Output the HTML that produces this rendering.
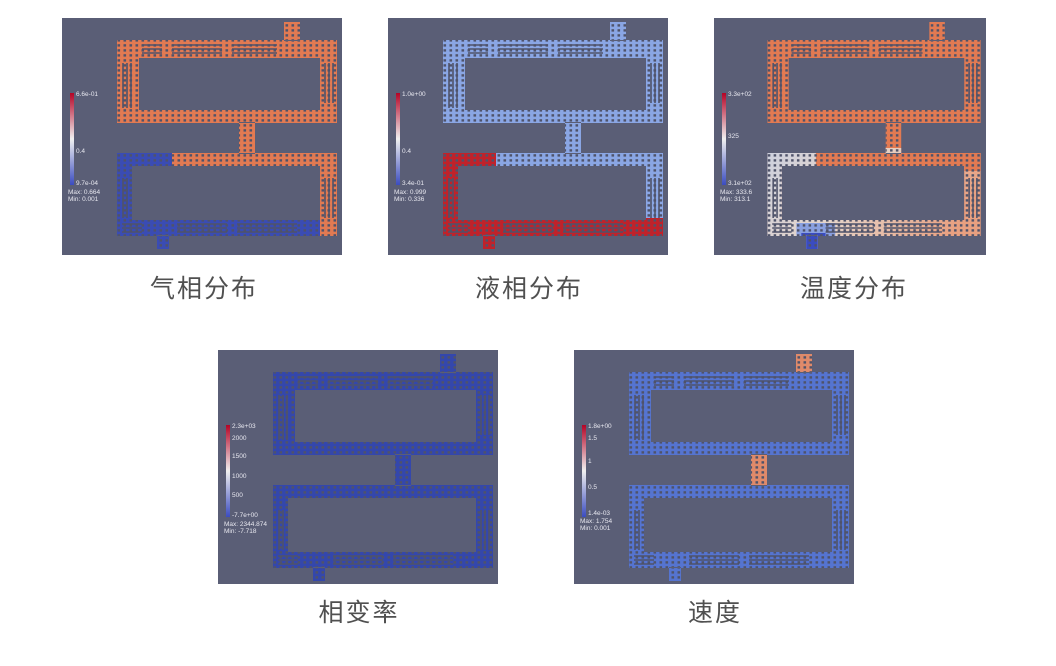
<!DOCTYPE html>
<html><head><meta charset="utf-8"><style>
html,body{margin:0;padding:0;background:#fff;width:1056px;height:666px;overflow:hidden}
svg{display:block}
.lb{font-family:"Liberation Sans","Noto Sans CJK SC",sans-serif;font-size:25px;fill:#505050;text-anchor:middle;letter-spacing:2px}
.sm{font-family:"Liberation Sans",sans-serif;font-size:6.5px;fill:#e8e8f0}
</style></head><body>
<svg width="1056" height="666" viewBox="0 0 1056 666" xmlns="http://www.w3.org/2000/svg">
<defs>
<pattern id="dots" width="6" height="5" patternUnits="userSpaceOnUse"><rect x="1.5" y="1.2" width="2.6" height="2.4" fill="#4f536a"/></pattern>
<clipPath id="shape">
<path fill-rule="evenodd" clip-rule="evenodd" d="M55,22h220v83h-220z M77,40h181v52h-181z M177,104h16v32h-16z M55,135h220v83h-220z M70,148h188v54h-188z M222,4h16v19h-16z M95,217h12v14h-12z"/>
</clipPath>
<linearGradient id="cb" x1="0" y1="0" x2="0" y2="1"><stop offset="0" stop-color="#b40426"/><stop offset="0.5" stop-color="#f0f0f0"/><stop offset="1" stop-color="#3b4cc0"/></linearGradient>
<linearGradient id="tb" x1="0" y1="0" x2="1" y2="0.3"><stop offset="0" stop-color="#c9d0e2"/><stop offset="0.5" stop-color="#e6d4c8"/><stop offset="1" stop-color="#e8a080"/></linearGradient>
<g id="cbar"><rect x="8" y="75" width="4" height="92" fill="url(#cb)"/></g>
<g id="slots" fill="none" stroke="#4f536a" stroke-width="1.6">
<path d="M80,27h20M80,31h20M80,35h20 M110,27h50M110,31h50M110,35h50 M170,27h45M170,31h45M170,35h45"/>
<path d="M61,45v45M65,45v45M69,45v45 M263,45v40M267,45v40M271,45v40"/>
<path d="M61,160v40M65,160v40 M263,160v40M267,160v40M271,160v40"/>
<path d="M60,206h20M60,210h20M60,214h20 M115,206h50M115,210h50M115,214h50 M175,206h60M175,210h60M175,214h60"/>
</g>
</defs>

<g transform="translate(62,18)">
<rect width="280" height="237" fill="#5a5e76"/>
<g clip-path="url(#shape)">
<rect width="280" height="237" fill="#e27a52"/>
<rect x="40" y="130" width="70" height="110" fill="#3a4cb4"/>
<rect x="40" y="153" width="220" height="90" fill="#3a4cb4"/>
<rect x="258" y="153" width="20" height="80" fill="#e27a52"/>
<rect x="90" y="215" width="25" height="20" fill="#3a4cb4"/>
<rect x="222" y="4" width="16" height="19" fill="#e27a52"/>
<rect width="280" height="237" fill="url(#dots)"/>
<use href="#slots"/>
</g>
<use href="#cbar"/>
<text class="sm" x="14" y="78">6.6e-01</text><text class="sm" x="14" y="135">0.4</text><text class="sm" x="14" y="167">9.7e-04</text>
<text class="sm" x="6" y="176">Max: 0.664</text><text class="sm" x="6" y="183">Min: 0.001</text>
</g>

<g transform="translate(388,18)">
<rect width="280" height="237" fill="#5a5e76"/>
<g clip-path="url(#shape)">
<rect width="280" height="237" fill="#8aa6e4"/>
<rect x="40" y="130" width="68" height="110" fill="#c0222a"/>
<rect x="40" y="200" width="240" height="40" fill="#c0222a"/>
<rect width="280" height="237" fill="url(#dots)"/>
<use href="#slots"/>
</g>
<use href="#cbar"/>
<text class="sm" x="14" y="78">1.0e+00</text><text class="sm" x="14" y="135">0.4</text><text class="sm" x="14" y="167">3.4e-01</text>
<text class="sm" x="6" y="176">Max: 0.999</text><text class="sm" x="6" y="183">Min: 0.336</text>
</g>

<g transform="translate(714,18)">
<rect width="272" height="237" fill="#5a5e76"/>
<g transform="scale(0.97,1)">
<g clip-path="url(#shape)">
<rect width="280" height="237" fill="#e27a52"/>
<rect x="40" y="130" width="240" height="110" fill="url(#tb)"/>
<rect x="105" y="135" width="175" height="18" fill="#e27a52"/>
<rect x="85" y="205" width="40" height="35" fill="#8aa0e0"/>
<rect x="90" y="215" width="25" height="20" fill="#3a4cc0"/>
<rect width="280" height="237" fill="url(#dots)"/>
<use href="#slots"/>
</g></g>
<use href="#cbar"/>
<text class="sm" x="14" y="78">3.3e+02</text><text class="sm" x="14" y="120">325</text><text class="sm" x="14" y="167">3.1e+02</text>
<text class="sm" x="6" y="176">Max: 333.6</text><text class="sm" x="6" y="183">Min: 313.1</text>
</g>

<g transform="translate(218,350)">
<rect width="280" height="234" fill="#5a5e76"/>
<g clip-path="url(#shape)">
<rect width="280" height="237" fill="#3447ac"/>
<rect width="280" height="237" fill="url(#dots)"/>
<use href="#slots"/>
</g>
<use href="#cbar"/>
<text class="sm" x="14" y="78">2.3e+03</text><text class="sm" x="14" y="90">2000</text><text class="sm" x="14" y="108">1500</text><text class="sm" x="14" y="128">1000</text><text class="sm" x="14" y="147">500</text><text class="sm" x="14" y="167">-7.7e+00</text>
<text class="sm" x="6" y="176">Max: 2344.874</text><text class="sm" x="6" y="183">Min: -7.718</text>
</g>

<g transform="translate(574,350)">
<rect width="280" height="234" fill="#5a5e76"/>
<g clip-path="url(#shape)">
<rect width="280" height="237" fill="#5574d0"/>
<rect x="177" y="104" width="16" height="32" fill="#e08a6a"/>
<rect x="222" y="4" width="16" height="19" fill="#e08a6a"/>
<rect width="280" height="237" fill="url(#dots)"/>
<use href="#slots"/>
</g>
<use href="#cbar"/>
<text class="sm" x="14" y="78">1.8e+00</text><text class="sm" x="14" y="90">1.5</text><text class="sm" x="14" y="113">1</text><text class="sm" x="14" y="139">0.5</text><text class="sm" x="14" y="165">1.4e-03</text>
<text class="sm" x="6" y="173">Max: 1.754</text><text class="sm" x="6" y="180">Min: 0.001</text>
</g>

<text class="lb" x="204" y="297">气相分布</text>
<text class="lb" x="529" y="297">液相分布</text>
<text class="lb" x="854" y="297">温度分布</text>
<text class="lb" x="359" y="621">相变率</text>
<text class="lb" x="715" y="621">速度</text>
</svg>
</body></html>
